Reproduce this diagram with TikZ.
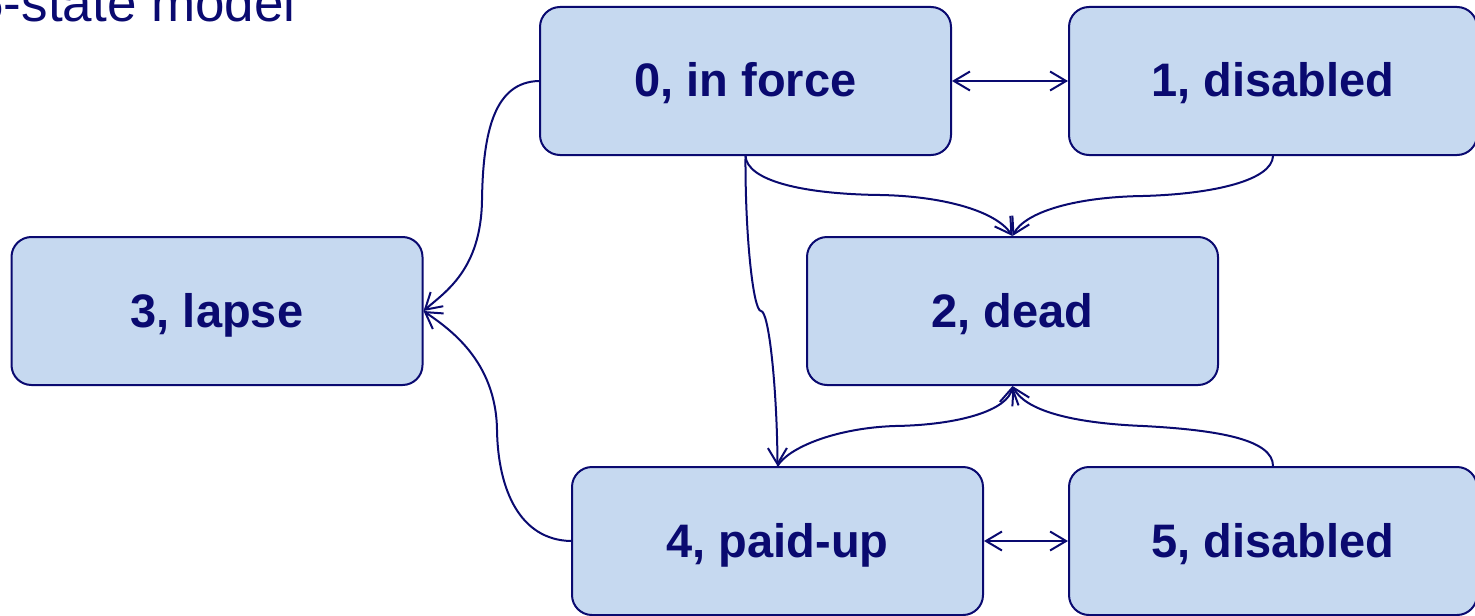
\documentclass[tikz,border=0pt]{standalone}
\usepackage{fontspec}
\setmainfont{Liberation Sans}
\usetikzlibrary{arrows.meta}
\definecolor{navy}{RGB}{10,10,112}
\definecolor{boxfill}{RGB}{198,217,240}
\tikzset{
  state/.style={draw=navy, line width=1pt, fill=boxfill, rounded corners=10pt,
    minimum width=205.5pt, minimum height=74pt, inner sep=0pt,
    text height=16pt, text depth=0pt,
    text=navy, font=\fontsize{23.5pt}{28pt}\selectfont\bfseries},
  link/.style={draw=navy, line width=1pt, -{Straight Barb[length=8pt,width=9.5pt]}},
  dlink/.style={draw=navy, line width=1pt, {Straight Barb[length=8pt,width=9.5pt]}-{Straight Barb[length=8pt,width=9.5pt]}}
}
\begin{document}
\begin{tikzpicture}[x=0.5pt,y=-0.5pt]
\useasboundingbox (0,0) rectangle (1475,615);
\node[anchor=base east, text=navy, font=\fontsize{26.5pt}{30pt}\selectfont, inner sep=0pt] (title) at (296,22) {5-state model};
\node[state] (n0) at (745.5,81) {0, in force};
\node[state, minimum width=204pt] (n1) at (1273,81) {1, disabled};
\node[state] (n3) at (217,311) {3, lapse};
\node[state] (n2) at (1012.5,311) {2, dead};
\node[state] (n4) at (777.5,541) {4, paid-up};
\node[state, minimum width=204pt] (n5) at (1273,541) {5, disabled};
% horizontal double arrows
\draw[dlink] (n0.east) -- (n1.west);
\draw[dlink] (n4.east) -- (n5.west);
% to lapse
\draw[link] (n0.west) .. controls (495,82) and (483,130) .. (482,200) .. controls (481,270) and (445,292) .. (n3.east);
\draw[link] (n4.west) .. controls (520,540) and (498,490) .. (497,430) .. controls (496,360) and (448,328) .. (n3.east);
% to dead
\draw[link] (n0.south) .. controls (747,180) and (800,194) .. (880,195) .. controls (940,196) and (995,210) .. (n2.north);
\draw[link] (n1.south) .. controls (1272,180) and (1215,194) .. (1143,196) .. controls (1075,197) and (1025,212) .. (n2.north);
\draw[link] (n4.north) .. controls (788,448) and (835,428) .. (895,426) .. controls (960,425) and (1008,410) .. (n2.south);
\draw[link] (n5.north) .. controls (1273,440) and (1220,430) .. (1143,426) .. controls (1070,423) and (1025,410) .. (n2.south);
% to paid-up
\draw[link] (n0.south) .. controls (745,233) and (753,311) .. (761,311) .. controls (769,311) and (777,389) .. (n4.north);
\end{tikzpicture}
\end{document}
